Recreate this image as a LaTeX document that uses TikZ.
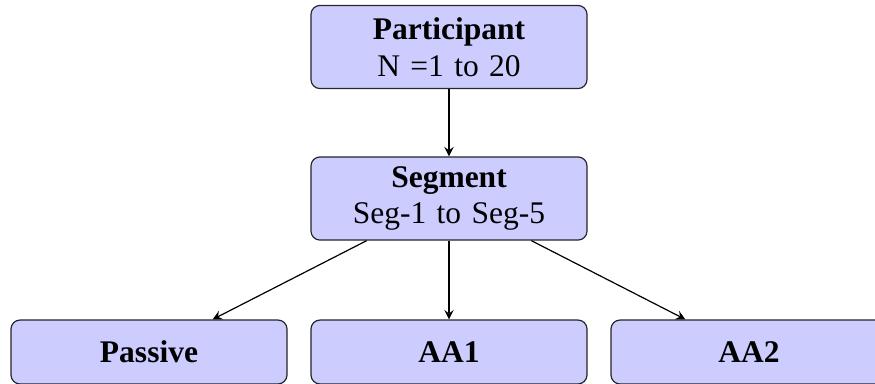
\documentclass[tikz,border=0pt]{standalone}
\usepackage{fontspec}
\setmainfont{Liberation Serif}
\usepackage{tikz}
\usetikzlibrary{arrows,shapes,positioning}
\usepackage{xcolor}
\definecolor{boxfill}{RGB}{204,204,255}
\newcommand{\boxfont}{\fontsize{10.5}{12.3}\selectfont\spaceskip 0.33em plus 0.1em\relax}
\tikzstyle{block} = [draw=black!85, fill=boxfill, rounded corners=3pt, align=center,
  minimum width=92pt, minimum height=27.7pt, inner sep=0pt, font=\boxfont]
\tikzstyle{leaf} = [block, minimum height=21.3pt]
\tikzstyle{arrow} = [->,>=stealth,color=black]

\begin{document}
\begin{tikzpicture}[x=0.3333pt, y=-0.3333pt]
\useasboundingbox (0,0) rectangle (875,383);
% Hierarchy
\node[block] (participant) at (449,47) {\textbf{Participant}\\N =1 to 20};
\node[block] (segment) at (449,198.5) {\textbf{Segment}\\Seg-1 to Seg-5};

\node[leaf] (passive) at (149,352) {\textbf{Passive}};
\node[leaf] (aa1) at (449,352) {\textbf{AA1}};
\node[leaf] (aa2) at (749,352) {\textbf{AA2}};

% Arrows
\draw[arrow] (participant) -- (segment);
\draw[arrow] (segment) -- (passive);
\draw[arrow] (segment) -- (aa1);
\draw[arrow] (segment) -- (aa2);
\end{tikzpicture}
\end{document}
